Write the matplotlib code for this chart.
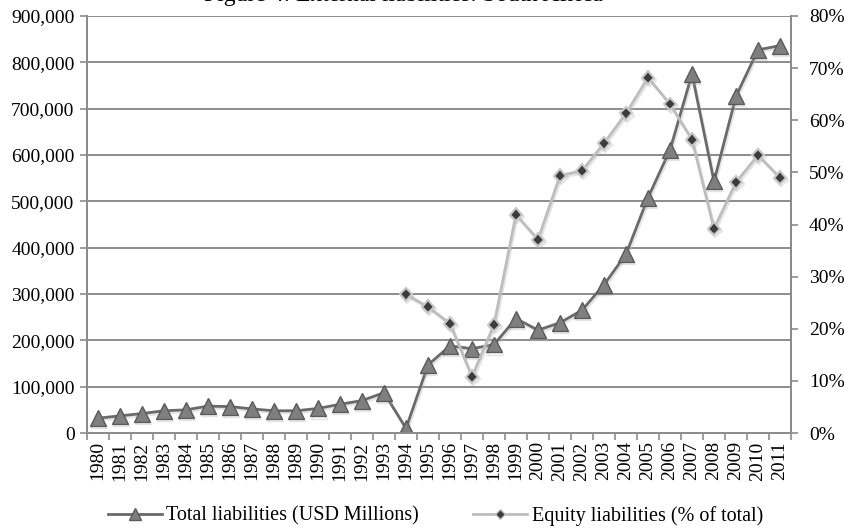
import numpy as np
import matplotlib.pyplot as plt
import matplotlib.patheffects as pe
from matplotlib.ticker import FuncFormatter, MultipleLocator

plt.rcParams['font.family'] = ['Liberation Serif', 'DejaVu Serif']

years = [str(y) for y in range(1980, 2012)]
total_liab = [32000, 37000, 42000, 48000, 50000, 58000, 57000, 52000, 48000, 48000,
              53000, 62000, 70000, 87000, 10000, 147000, 188000, 182000, 191000, 247000,
              222000, 238000, 265000, 320000, 386000, 508000, 611000, 775000, 543000, 727000,
              827000, 836000]
equity_years = [str(y) for y in range(1994, 2012)]
equity_pct = [26.6, 24.2, 21.0, 10.8, 20.8, 41.9, 37.1, 49.4, 50.3, 55.6,
              61.3, 68.2, 63.1, 56.3, 39.2, 48.1, 53.3, 49.0]

fig = plt.figure(figsize=(8.45, 5.29), dpi=100)
ax = fig.add_axes([87/845, 1-433/529, (791-87)/845, (433-16)/529])
ax2 = ax.twinx()

x = np.arange(len(years))
xe = np.array([years.index(y) for y in equity_years])

shadow = [pe.SimpleLineShadow(offset=(1, -1.5), shadow_color='0.7', alpha=0.35), pe.Normal()]

# total liabilities on the left axis
ax.plot(x, total_liab, color='#6a6a6a', lw=2, marker='^', ms=11.5,
        mfc='#7f7f7f', mec='#5a5a5a', mew=1, zorder=3, path_effects=shadow)

# equity share on the right axis
ax2.plot(xe, equity_pct, color='#bdbdbd', lw=2, marker='D', ms=6.5,
         mfc='#3c3c3c', mec='#c8c8c8', mew=1.5, zorder=3, path_effects=shadow)

ax.set_xlim(-0.5, len(years) - 0.5)
ax.set_ylim(0, 900000)
ax.yaxis.set_major_locator(MultipleLocator(100000))
ax.yaxis.set_major_formatter(FuncFormatter(lambda v, p: f'{int(v):,}'))
ax.grid(axis='y', color='#8c8c8c', lw=1.4)
ax.set_axisbelow(True)

ax.set_xticks(x)
ax.set_xticklabels(years, rotation=90)
ax.set_xticks(np.arange(len(years) + 1) - 0.5, minor=True)
ax.tick_params(axis='x', which='major', length=0, pad=6, labelsize=14)
ax.tick_params(axis='x', which='minor', length=5, color='#8c8c8c', width=1.2)
ax.tick_params(axis='y', length=5, color='#8c8c8c', width=1.2, labelsize=14, pad=4)

ax2.set_ylim(0, 80)
ax2.yaxis.set_major_locator(MultipleLocator(10))
ax2.yaxis.set_major_formatter(FuncFormatter(lambda v, p: f'{int(v)}%'))
ax2.tick_params(axis='y', length=5, color='#8c8c8c', width=1.2, labelsize=14, pad=8)

for a in (ax, ax2):
    for s in ('left', 'right', 'bottom'):
        a.spines[s].set_color('#8c8c8c')
        a.spines[s].set_linewidth(1.4)
    a.spines['top'].set_visible(False)

fig.text(0.478, 1 - 0.5/529, 'Figure 4: External liabilities: South Africa',
         ha='center', va='baseline', fontsize=17)

h1, = ax.plot([], [], color='#6a6a6a', lw=2, marker='^', ms=8, mfc='#7f7f7f', mec='#5a5a5a')
h2, = ax.plot([], [], color='#bdbdbd', lw=2, marker='D', ms=5, mfc='#3c3c3c', mec='#c8c8c8')
fig.legend([h1, h2], ['Total liabilities (USD Millions)', 'Equity liabilities (% of total)'],
           loc='center', bbox_to_anchor=(0.515, 1 - 516/529), ncol=2, frameon=False,
           fontsize=14.5, handlelength=2.7, columnspacing=2.7, handletextpad=0.2)

fig.savefig('out.png', dpi=100)
